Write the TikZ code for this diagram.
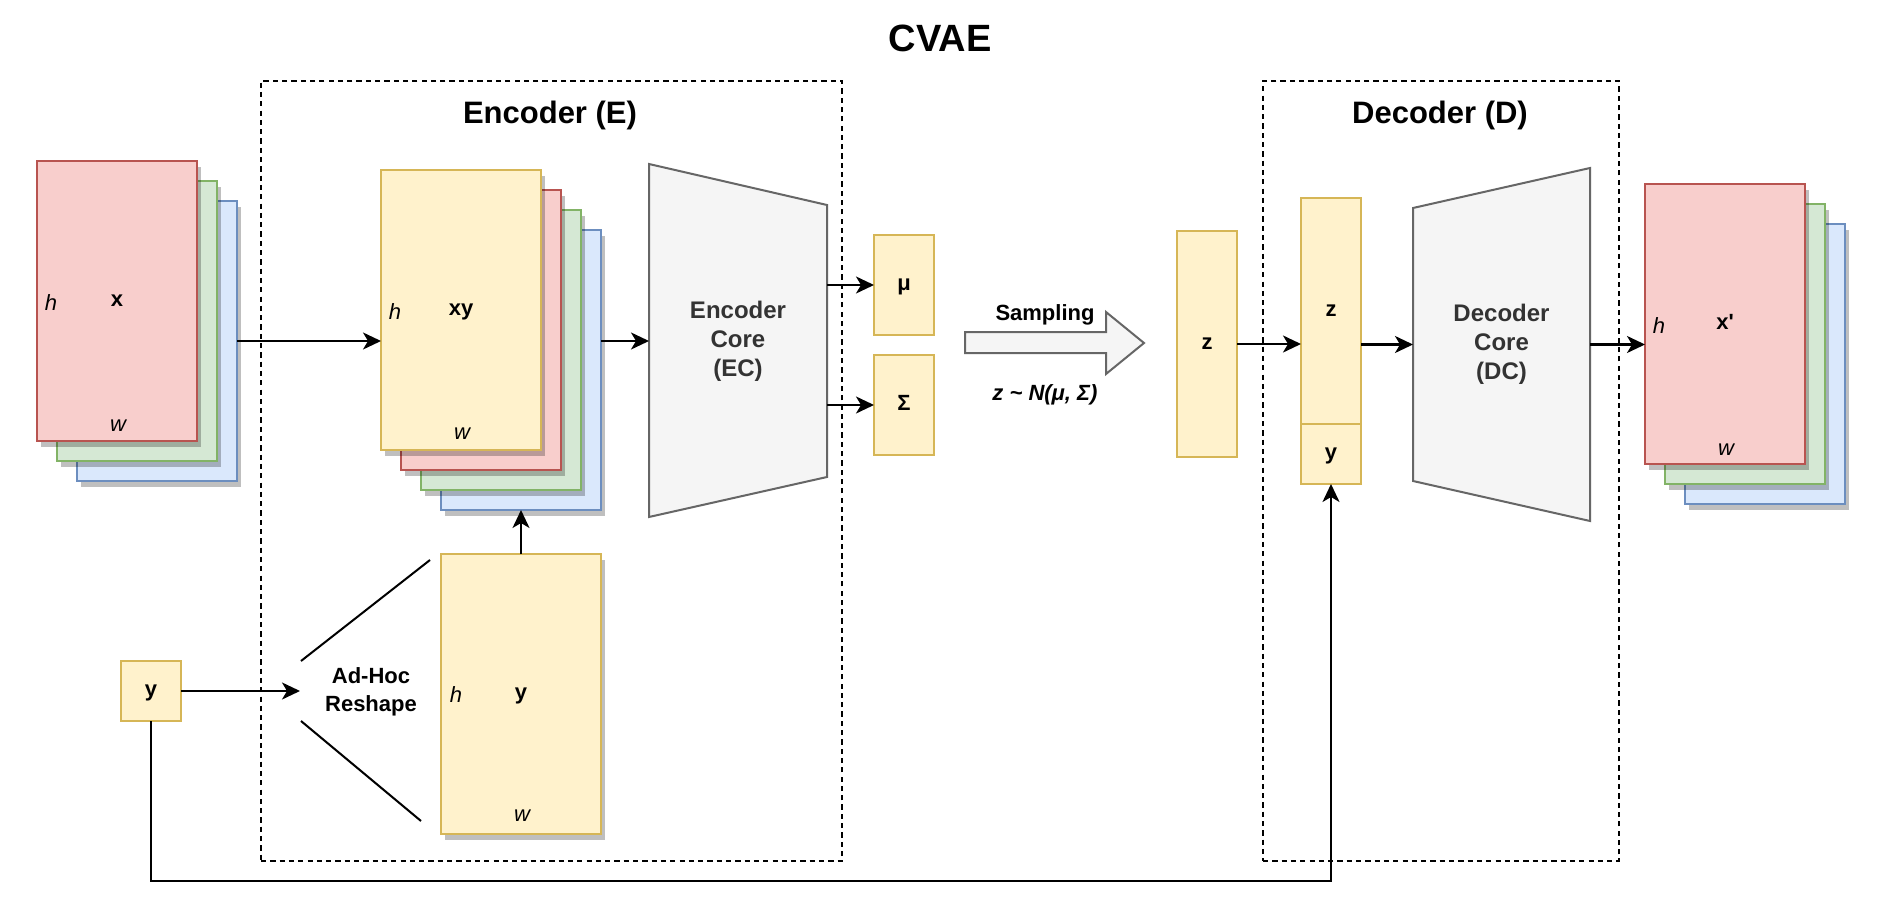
\documentclass[tikz,border=0pt]{standalone}
\usepackage{fontspec}
\setmainfont{Liberation Sans}
\usetikzlibrary{arrows.meta,shadows,calc}
\definecolor{redF}{HTML}{F8CECC}\definecolor{redS}{HTML}{B85450}
\definecolor{grnF}{HTML}{D5E8D4}\definecolor{grnS}{HTML}{82B366}
\definecolor{bluF}{HTML}{DAE8FC}\definecolor{bluS}{HTML}{6C8EBF}
\definecolor{yelF}{HTML}{FFF2CC}\definecolor{yelS}{HTML}{D6B656}
\definecolor{gryF}{HTML}{F5F5F5}\definecolor{gryS}{HTML}{666666}
\definecolor{gryT}{HTML}{333333}
\begin{document}
\begin{tikzpicture}[x=1pt,y=-1pt,
  every node/.style={inner sep=0pt, outer sep=0pt},
  box/.style={rectangle, line width=2pt, anchor=north west, font=\fontsize{22}{26}\selectfont\bfseries, text height=16pt, text depth=5pt},
  ybox/.style={box, fill=yelF, draw=yelS},
  sheet/.style={box, minimum width=160pt, minimum height=280pt, drop shadow={shadow xshift=4pt, shadow yshift=-6pt, opacity=0.25, fill=black}},
  rsheet/.style={sheet, fill=redF, draw=redS},
  gsheet/.style={sheet, fill=grnF, draw=grnS},
  bsheet/.style={sheet, fill=bluF, draw=bluS},
  ysheet/.style={sheet, fill=yelF, draw=yelS},
  dimh/.style={anchor=base, font=\fontsize{22}{26}\selectfont\itshape},
  dbox/.style={draw=black, line width=2pt, dash pattern=on 5.2pt off 4.1pt, rectangle, anchor=north west},
  trap/.style={fill=gryF, draw=gryS, line width=2pt},
  coretext/.style={align=center, text=gryT, font=\fontsize{24}{29}\selectfont\bfseries},
  lbltext/.style={font=\fontsize{22}{26}\selectfont\bfseries, text height=16pt, text depth=5pt},
  arr/.style={line width=2.2pt, -{Stealth[length=18pt,width=17pt,inset=5pt]}},
  ln/.style={line width=2pt}
]
\path[fill=white, use as bounding box] (0,0) rectangle (1880,920);

% titles and groups
\node[anchor=base, font=\fontsize{38}{44}\selectfont\bfseries] (title) at (940,52) {CVAE};
\node[dbox, minimum width=581pt, minimum height=780pt] (enc) at (261,81) {};
\node[dbox, minimum width=356pt, minimum height=780pt] (dec) at (1263,81) {};
\node[anchor=base, font=\fontsize{31}{36}\selectfont\bfseries] (encT) at (550,124) {Encoder (E)};
\node[anchor=base, font=\fontsize{31}{36}\selectfont\bfseries] (decT) at (1440,124) {Decoder (D)};

% input x stack
\node[bsheet] (xb) at (77,201) {};
\node[gsheet] (xg) at (57,181) {};
\node[rsheet] (xr) at (37,161) {x};
\node[dimh] (xh) at ($(xr.west)+(14,9)$) {h};
\node[dimh] (xw) at ($(xr.south)+(1,-10)$) {w};

% xy stack
\node[bsheet] (xyb) at (441,230) {};
\node[gsheet] (xyg) at (421,210) {};
\node[rsheet] (xyr) at (401,190) {};
\node[ysheet] (xy) at (381,170) {xy};
\node[dimh] (xyh) at ($(xy.west)+(14,9)$) {h};
\node[dimh] (xyw) at ($(xy.south)+(1,-11)$) {w};

% reshaped y
\node[ysheet] (ybig) at (441,554) {y};
\node[dimh] (ybh) at ($(ybig.west)+(15,8)$) {h};
\node[dimh] (ybw) at ($(ybig.south)+(1,-13)$) {w};

% small y input
\node[ybox, minimum width=60pt, minimum height=60pt] (yin) at (121,661) {y};
\node[align=center, font=\fontsize{22}{28}\selectfont\bfseries] (adhoc) at (371,692) {Ad-Hoc\\Reshape};
\coordinate (rs) at (300,691);
\draw[ln] (301,661) -- (430,560);
\draw[ln] (301,721) -- (421,821);

% encoder core
\draw[trap] (649,164) -- (827,205) -- (827,477) -- (649,517) -- cycle;
\node[coretext, minimum width=178pt, minimum height=272pt] (EC) at (738,341) {Encoder\\Core\\(EC)};

% mu, sigma
\node[ybox, minimum width=60pt, minimum height=100pt] (mu) at (874,235) {μ};
\node[ybox, minimum width=60pt, minimum height=100pt] (sig) at (874,355) {Σ};

% sampling arrow
\draw[trap, line join=miter] (965,332) -- (1106,332) -- (1106,312) -- (1144,343) -- (1106,374) -- (1106,353) -- (965,353) -- cycle;
\node[lbltext] (samp) at (1045,315) {Sampling};
\node[lbltext, font=\fontsize{22}{26}\selectfont\bfseries\itshape] (dist) at (1045,394.5) {z \textasciitilde{} N(μ, Σ)};

% z
\node[ybox, minimum width=60pt, minimum height=226pt] (zl) at (1177,231) {z};
\node[ybox, minimum width=60pt, minimum height=226pt] (zs) at (1301,198) {z};
\node[ybox, minimum width=60pt, minimum height=60pt] (ys) at (1301,424) {y};

% decoder core
\draw[trap] (1413,208) -- (1590,168) -- (1590,521) -- (1413,481) -- cycle;
\node[coretext, minimum width=177pt, minimum height=273pt] (DC) at (1501.5,344.5) {Decoder\\Core\\(DC)};

% output x' stack
\node[bsheet] (ob) at (1685,224) {};
\node[gsheet] (og) at (1665,204) {};
\node[rsheet] (or) at (1645,184) {x\textquotesingle};
\node[dimh] (oh) at ($(or.west)+(14,9)$) {h};
\node[dimh] (ow) at ($(or.south)+(1,-9)$) {w};

% connectors
\draw[arr] (xb.east) -- (xy.west |- xb.east);
\draw[arr] (xyb.east |- EC.west) -- (EC.west);
\draw[arr] (EC.east |- mu.west) -- (mu.west);
\draw[arr] (EC.east |- sig.west) -- (sig.west);
\draw[arr] (ybig.north) -- (xyb.south);
\draw[arr] (yin.east) -- (rs);
\draw[arr] (zl.east) -- (zs.west |- zl.east);
\draw[arr] (zs.east |- DC.west) -- (DC.west);
\draw[arr] (DC.east) -- (or.west |- DC.east);
\draw[arr] (yin.south) -- ($(yin.south)+(0,160)$) -| (ys.south);
\end{tikzpicture}
\end{document}
